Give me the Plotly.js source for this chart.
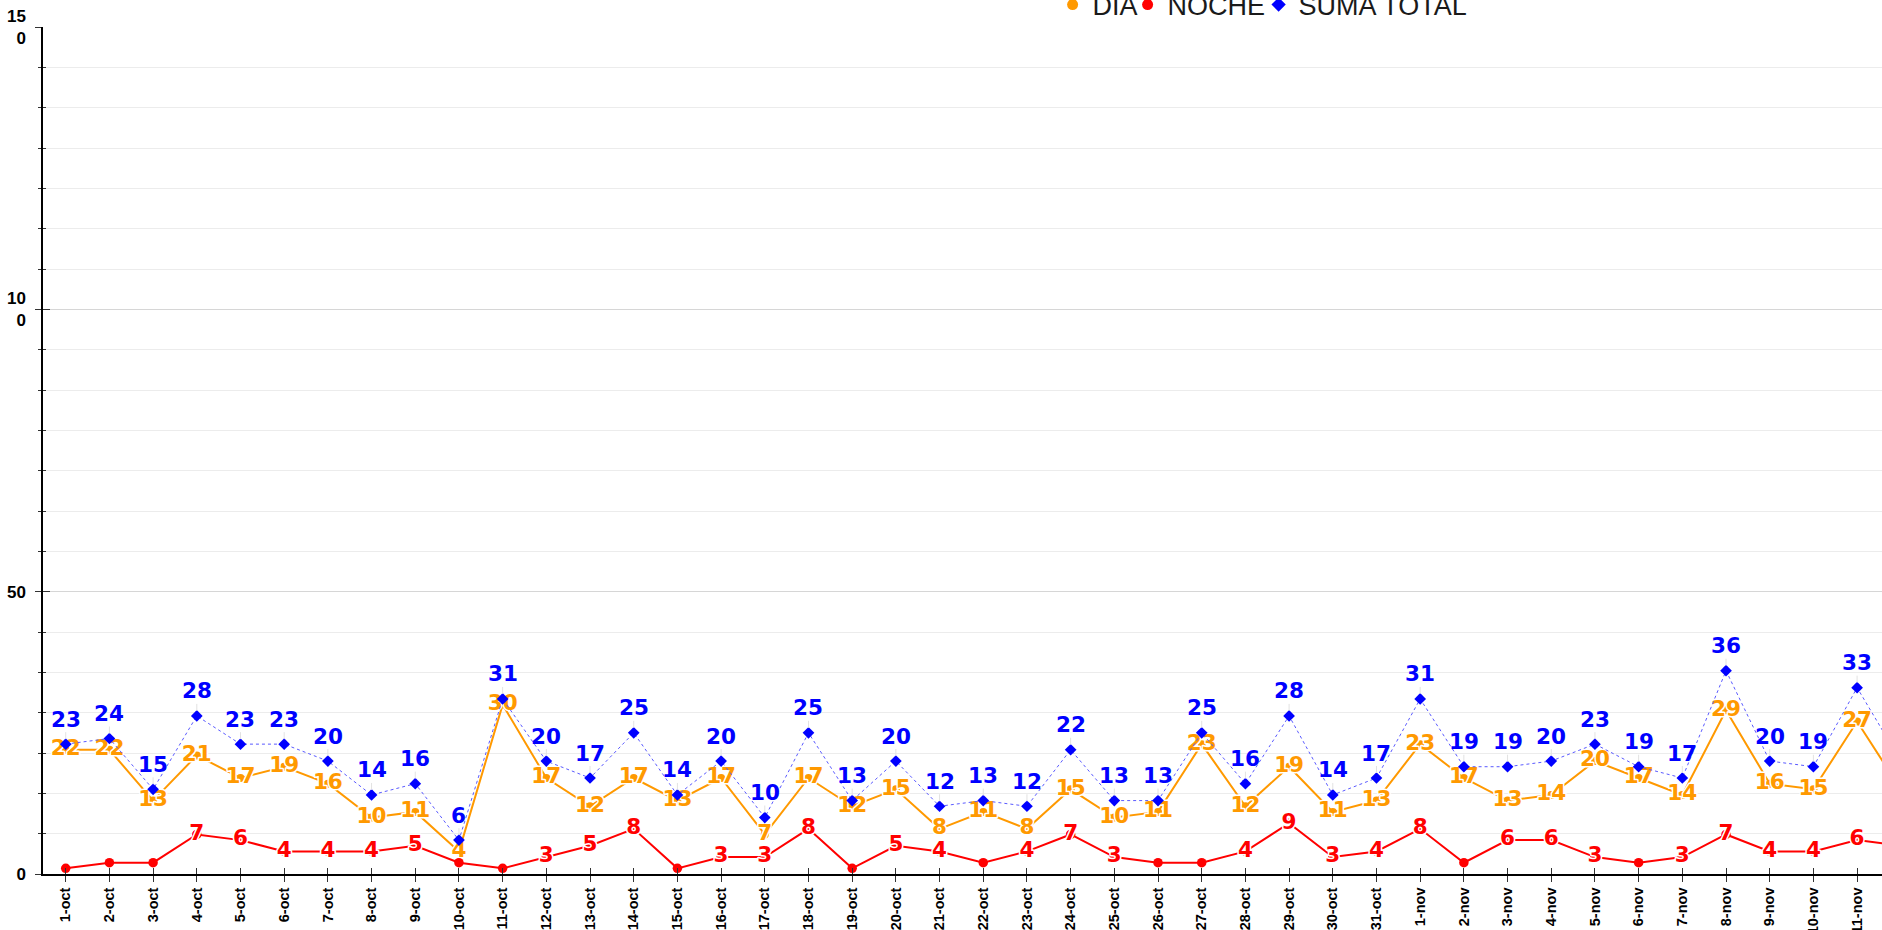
<!DOCTYPE html>
<html>
<head>
<meta charset="utf-8">
<script src="https://cdn.plot.ly/plotly-3.0.1.min.js"></script>
<style>
  html, body { margin: 0; padding: 0; background: #fff; overflow: hidden; }
  #chart { width: 1882px; height: 930px; }
  .scatterlayer .textpoint text { paint-order: stroke fill; stroke: #ffffff; stroke-width: 3px; stroke-linejoin: round; }
</style>
</head>
<body>
<div id="chart"></div>
<script>
const categories = ['1-oct','2-oct','3-oct','4-oct','5-oct','6-oct','7-oct','8-oct','9-oct','10-oct',
  '11-oct','12-oct','13-oct','14-oct','15-oct','16-oct','17-oct','18-oct','19-oct','20-oct',
  '21-oct','22-oct','23-oct','24-oct','25-oct','26-oct','27-oct','28-oct','29-oct','30-oct','31-oct',
  '1-nov','2-nov','3-nov','4-nov','5-nov','6-nov','7-nov','8-nov','9-nov','10-nov','11-nov','12-nov'];
const dia   = [22,22,13,21,17,19,16,10,11,4,30,17,12,17,13,17,7,17,12,15,8,11,8,15,10,11,23,12,19,11,13,23,17,13,14,20,17,14,29,16,15,27,15];
const noche = [1,2,2,7,6,4,4,4,5,2,1,3,5,8,1,3,3,8,1,5,4,2,4,7,3,2,2,4,9,3,4,8,2,6,6,3,2,3,7,4,4,6,5];
const suma  = [23,24,15,28,23,23,20,14,16,6,31,20,17,25,14,20,10,25,13,20,12,13,12,22,13,13,25,16,28,14,17,31,19,19,20,23,19,17,36,20,19,33,20];
const seriesNames = ['DIA', 'NOCHE', 'SUMA TOTAL'];
const yTickVals = [0, 50, 100, 150];
const yTickText = ['0', '50', '10<br>0', '15<br>0'];

const ORANGE = '#ff9900', RED = '#ff0000', BLUE = '#0000ff';
const labelFont = (c) => ({family: 'DejaVu Sans, Verdana, sans-serif', size: 21.5, color: c, weight: 'bold'});
const X_RANGE = [-0.52, 41.57], Y_RANGE = [0, 150];

const traces = [
  {x: categories, y: dia, type: 'scatter', mode: 'lines+markers+text', name: seriesNames[0], showlegend: false,
   line: {color: ORANGE, width: 2}, marker: {color: ORANGE, size: 8},
   text: dia.map(String), textposition: 'middle center', textfont: labelFont(ORANGE), hoverinfo: 'x+y'},
  {x: categories, y: noche, type: 'scatter', mode: 'lines+markers+text', name: seriesNames[1], showlegend: false,
   line: {color: RED, width: 2}, marker: {color: RED, size: 9.5},
   text: noche.map(v => v > 2 ? String(v) : ''), textposition: 'middle center', textfont: labelFont(RED), hoverinfo: 'x+y'},
  {x: categories, y: suma, type: 'scatter', mode: 'lines+markers', name: seriesNames[2], showlegend: false,
   line: {color: '#5a5aff', width: 1, dash: 'dot'}, marker: {color: BLUE, size: 9, symbol: 'diamond'}, hoverinfo: 'x+y'},
  // legend entries (markers only, as in the reference legend)
  {x: [null], y: [null], type: 'scatter', mode: 'markers', name: seriesNames[0], legendwidth: 30, marker: {color: ORANGE, size: 11}},
  {x: [null], y: [null], type: 'scatter', mode: 'markers', name: seriesNames[1], legendwidth: 86, marker: {color: RED, size: 11}},
  {x: [null], y: [null], type: 'scatter', mode: 'markers', name: seriesNames[2], marker: {color: BLUE, size: 11, symbol: 'diamond'}},
  // companion axes carrying the inward half of the crossing tick marks
  {x: categories, y: categories.map(() => null), xaxis: 'x2', yaxis: 'y2', type: 'scatter', mode: 'markers',
   showlegend: false, hoverinfo: 'skip'}
];

const annotations = categories.map((c, i) => ({
  x: c, y: suma[i], xref: 'x', yref: 'y', text: String(suma[i]),
  showarrow: true, arrowhead: 0, arrowwidth: 1, arrowcolor: '#e2e2e2', ax: 0, ay: -25, standoff: 5,
  font: labelFont(BLUE), borderpad: 0
}));

const layout = {
  width: 1882, height: 930,
  margin: {l: 43, r: 0, t: 27, b: 56, autoexpand: false},
  paper_bgcolor: '#ffffff', plot_bgcolor: '#ffffff',
  showlegend: true,
  legend: {orientation: 'h', x: 0.549, xanchor: 'left', y: 1.026, yanchor: 'middle',
           font: {family: 'Liberation Sans, Arial, sans-serif', size: 27, color: '#1a1a1a'},
           bgcolor: 'rgba(0,0,0,0)', itemwidth: 30},
  xaxis: {type: 'category', range: X_RANGE, showgrid: false, showline: true, linecolor: '#000', linewidth: 1.5,
          ticks: 'outside', ticklen: 6, tickcolor: '#333', tickwidth: 1, tickangle: -90,
          tickfont: {family: 'Liberation Sans Narrow, Arial Narrow, sans-serif', size: 14.5, color: '#000', weight: 'bold'},
          zeroline: false, fixedrange: true},
  yaxis: {range: Y_RANGE, tickmode: 'array', tickvals: yTickVals, ticktext: yTickText,
          showline: true, linecolor: '#000', linewidth: 1.5, ticks: 'outside', ticklen: 6, tickcolor: '#333', tickwidth: 1,
          gridcolor: '#d6d6d6', gridwidth: 1, zeroline: false, ticklabelstandoff: 6,
          tickfont: {family: 'Liberation Sans, Arial, sans-serif', size: 17, color: '#000', weight: 'bold'},
          minor: {dtick: 50 / 7, tick0: 0, showgrid: true, gridcolor: '#ececec', ticks: 'outside', ticklen: 3, tickcolor: '#333'},
          fixedrange: true},
  xaxis2: {type: 'category', range: X_RANGE, overlaying: 'x', anchor: 'y2', side: 'bottom', showgrid: false,
           showline: false, showticklabels: false, ticks: 'inside', ticklen: 6, tickcolor: '#333', tickwidth: 1,
           zeroline: false, fixedrange: true},
  yaxis2: {range: Y_RANGE, overlaying: 'y', anchor: 'x2', side: 'left', tickmode: 'array', tickvals: yTickVals,
           showgrid: false, showline: false, showticklabels: false, ticks: 'inside', ticklen: 7, tickcolor: '#333', tickwidth: 1,
           minor: {dtick: 50 / 7, tick0: 0, showgrid: false, ticks: 'inside', ticklen: 3, tickcolor: '#333'},
           zeroline: false, fixedrange: true},
  annotations: annotations,
  hovermode: 'closest'
};

Plotly.newPlot('chart', traces, layout, {displayModeBar: false});
</script>
</body>
</html>
